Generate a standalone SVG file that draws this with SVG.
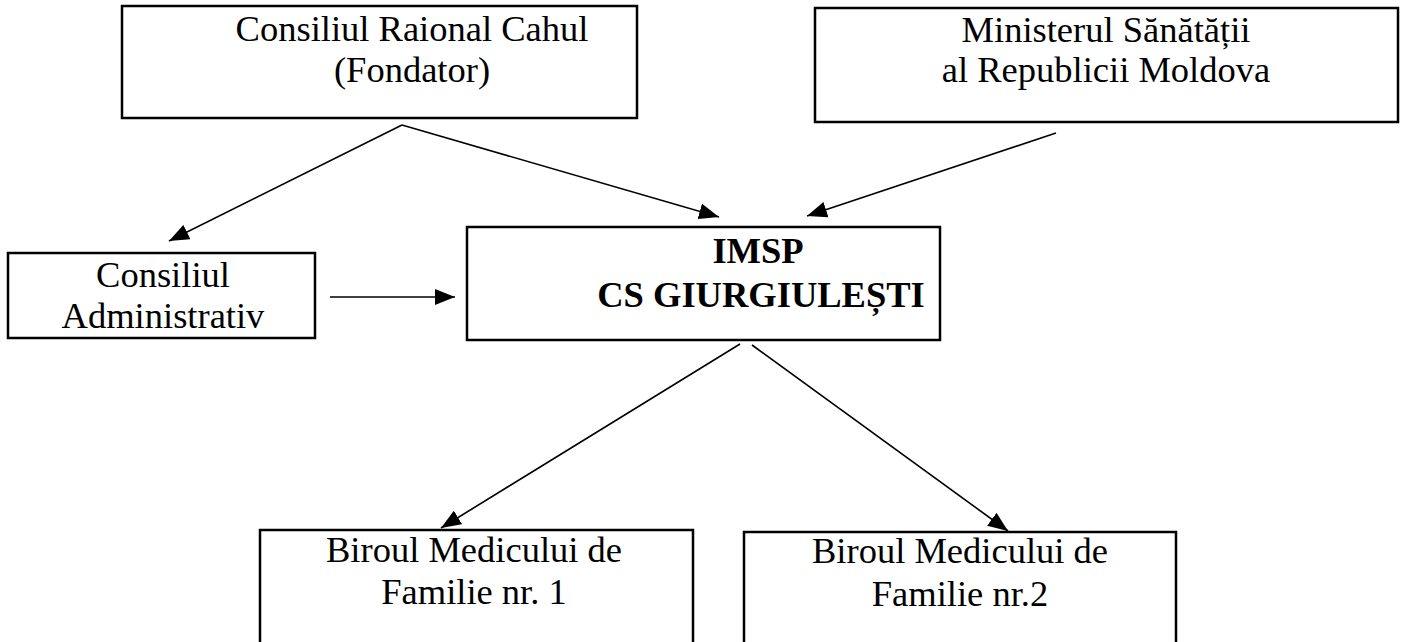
<svg xmlns="http://www.w3.org/2000/svg" width="1404" height="642" viewBox="0 0 1404 642">
<style>
.box{fill:#fff;stroke:#000;stroke-width:2.5}
.t{font-family:"Liberation Serif","Times New Roman",serif;font-size:36.5px;fill:#000;text-anchor:middle}
.b{font-weight:bold}
.c{stroke:#000;stroke-width:1.6;fill:none;marker-end:url(#ah)}
</style>
<defs>
<marker id="ah" markerUnits="userSpaceOnUse" markerWidth="22" markerHeight="16" refX="20" refY="8" orient="auto">
<path d="M0,0 L20,8 L0,16 Z" fill="#000"/>
</marker>
</defs>
<rect width="1404" height="642" fill="#fff"/>
<g id="n-consiliul-raional">
<rect class="box" x="122" y="6" width="515" height="112"/>
<text class="t" x="412" y="41">Consiliul Raional Cahul</text>
<text class="t" x="412" y="82">(Fondator)</text>
</g>
<g id="n-ministerul">
<rect class="box" x="815" y="8" width="583" height="114"/>
<text class="t" x="1106" y="42">Ministerul Sănătății</text>
<text class="t" x="1106" y="82">al Republicii Moldova</text>
</g>
<g id="n-consiliul-administrativ">
<rect class="box" x="8" y="253" width="307" height="85"/>
<text class="t" x="163" y="287">Consiliul</text>
<text class="t" x="163" y="328">Administrativ</text>
</g>
<g id="n-imsp">
<rect class="box" x="467" y="227" width="473" height="113"/>
<text class="t b" x="758" y="263">IMSP</text>
<text class="t b" x="761" y="307">CS GIURGIULEȘTI</text>
</g>
<g id="n-biroul-1">
<rect class="box" x="260" y="530" width="433" height="120"/>
<text class="t" x="474" y="562">Biroul Medicului de</text>
<text class="t" x="474" y="604">Familie nr. 1</text>
</g>
<g id="n-biroul-2">
<rect class="box" x="744" y="532" width="432" height="120"/>
<text class="t" x="960" y="563">Biroul Medicului de</text>
<text class="t" x="960" y="606">Familie nr.2</text>
</g>
<g id="connectors">
<line class="c" x1="402" y1="125" x2="169" y2="241"/>
<line class="c" x1="402" y1="125" x2="719" y2="217"/>
<line class="c" x1="1056" y1="133" x2="807" y2="216"/>
<line class="c" x1="330" y1="297" x2="455" y2="297"/>
<line class="c" x1="740" y1="344" x2="441" y2="528"/>
<line class="c" x1="752" y1="345" x2="1008" y2="531"/>
</g>
</svg>
